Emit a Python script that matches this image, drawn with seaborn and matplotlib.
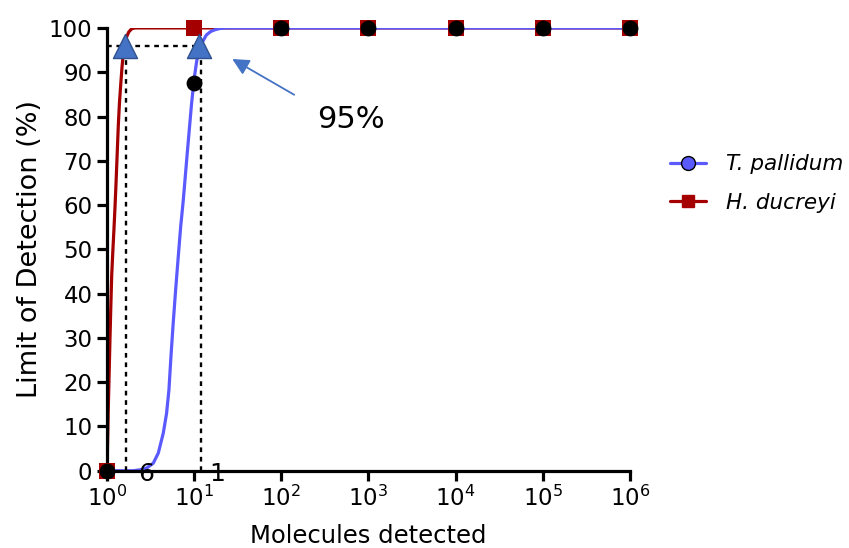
import matplotlib
matplotlib.use("Agg")
import matplotlib.pyplot as plt
from matplotlib.lines import Line2D
import numpy as np
import seaborn as sns

# measured points
tp_x = [1, 10, 100, 1e3, 1e4, 1e5, 1e6]
tp_y = [0, 87.5, 100, 100, 100, 100, 100]
hd_x = [1, 10, 100, 1e3, 1e4, 1e5, 1e6]
hd_y = [0, 100, 100, 100, 100, 100, 100]

# fitted curves (x given as log10 exponent)
tp_fit_exp = [0, 0.30, 0.378, 0.455, 0.531, 0.589, 0.646, 0.684, 0.711, 0.734,
              0.76, 0.788, 0.818, 0.845, 0.875, 0.92, 0.97, 1.00, 1.03, 1.06,
              1.086, 1.14, 1.19, 1.24, 1.30, 1.37, 6]
tp_fit_y = [0, 0, 0.2, 0.6, 1.7, 4, 8.5, 13, 18.3, 25.8,
            33.4, 40.9, 48.4, 55, 61, 71.5, 82.8, 88.5, 92.6, 95,
            96.5, 98.4, 99.2, 99.6, 99.9, 100, 100]
hd_fit_exp = [0, 0.008, 0.015, 0.025, 0.034, 0.044, 0.054, 0.067, 0.08, 0.092,
              0.103, 0.117, 0.13, 0.143, 0.157, 0.172, 0.187, 0.205, 0.226,
              0.25, 0.283, 0.32, 6]
hd_fit_y = [0, 7, 14, 22, 29.5, 37, 44, 49.5, 54.5, 59.5,
            64.5, 71.5, 78, 83, 87, 91, 94.3, 96.5, 98,
            99.1, 99.8, 100, 100]

# 95% detection points
lod_x = [1.62, 11.5]
lod_y = [96, 96]
lod_guide_x = [1.66, 12.06]
lod_labels = ["6", "1"]
lod_label_x = [2.8, 18.3]

tick_vals = [1, 10, 100, 1e3, 1e4, 1e5, 1e6]
tick_labels = [r"$\mathdefault{10^{%d}}$" % i for i in range(7)]

blue = "#5a5aff"
red = "#a50000"
tri = "#4472c4"

sns.set_style("ticks")
plt.rcParams["font.family"] = ["DejaVu Sans"]
plt.rcParams.update({"text.color": "black", "axes.labelcolor": "black",
                     "xtick.color": "black", "ytick.color": "black"})

fig = plt.figure(figsize=(8.49, 5.48), dpi=100)
ax = fig.add_axes([0.126, 0.141, 0.616, 0.808])

sns.lineplot(x=10 ** np.array(hd_fit_exp), y=hd_fit_y, color=red, lw=2.3,
             ax=ax, zorder=2, sort=False)
sns.lineplot(x=10 ** np.array(tp_fit_exp), y=tp_fit_y, color=blue, lw=2.3,
             ax=ax, zorder=2, sort=False)
ax.set_xscale("log")

sns.scatterplot(x=hd_x, y=hd_y, marker="s", s=130, color=red, linewidth=0,
                ax=ax, zorder=4, clip_on=False)
sns.scatterplot(x=tp_x, y=tp_y, marker="o", s=130, color="black", linewidth=0,
                ax=ax, zorder=5, clip_on=False)

# dotted guide lines
ax.plot([1, lod_guide_x[1]], [lod_y[0], lod_y[0]], color="black", ls=(0, (2, 2)),
        lw=1.7, zorder=3)
for xv in lod_guide_x:
    ax.plot([xv, xv], [0, lod_y[0]], color="black", ls=(0, (2, 2)), lw=1.7, zorder=3)

sns.scatterplot(x=lod_x, y=lod_y, marker="^", s=300, color=tri, edgecolor="#2f528f",
                linewidth=1, ax=ax, zorder=6, clip_on=False)

for lx, lab in zip(lod_label_x, lod_labels):
    ax.text(lx, -0.7, lab, fontsize=18, ha="center", va="center", zorder=7)

ax.annotate("", xy=(25.7, 93.3), xytext=(149.7, 84.6),
            arrowprops=dict(arrowstyle="-|>", color=tri, lw=1.3, mutation_scale=25))
ax.text(628, 79.3, "95%", fontsize=22, ha="center", va="center")

ax.set_xlim(1, 1e6)
ax.set_ylim(0, 100)
ax.set_xticks(tick_vals)
ax.set_xticklabels(tick_labels)
ax.xaxis.set_minor_locator(matplotlib.ticker.NullLocator())
ax.set_yticks(range(0, 101, 10))
ax.tick_params(labelsize=16.5, width=2.3, length=7, color="black")
for side in ["left", "bottom"]:
    ax.spines[side].set_linewidth(2.3)
    ax.spines[side].set_color("black")
sns.despine(ax=ax)

ax.set_xlabel("Molecules detected", fontsize=17.5, labelpad=10)
ax.set_ylabel("Limit of Detection (%)", fontsize=19.5)

handles = [
    Line2D([], [], color=blue, lw=2.3, marker="o", markersize=10,
           markerfacecolor=blue, markeredgecolor="black", markeredgewidth=1),
    Line2D([], [], color=red, lw=2.3, marker="s", markersize=8.5,
           markerfacecolor=red, markeredgecolor=red),
]
leg = fig.legend(handles, ["T. pallidum", "H. ducreyi"], loc="center left",
                 bbox_to_anchor=(0.766, 0.665), frameon=False,
                 prop={"style": "italic", "size": 15.5},
                 handlelength=1.7, handletextpad=0.9, labelspacing=0.85)

fig.savefig("out.png", dpi=100)
